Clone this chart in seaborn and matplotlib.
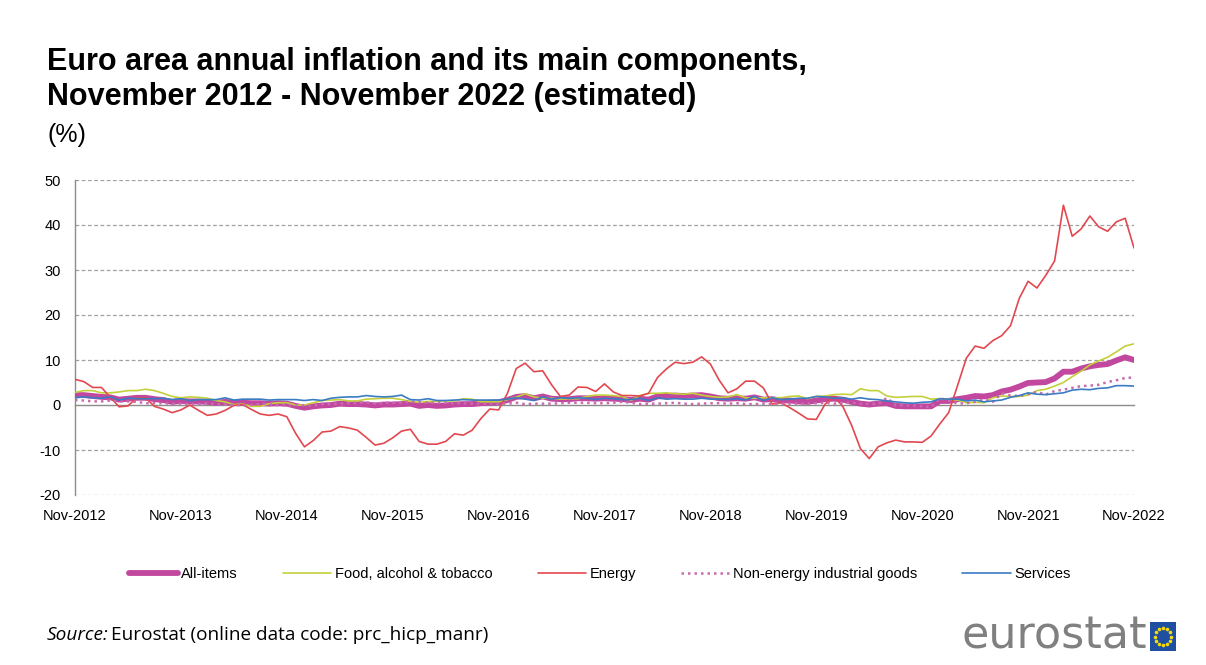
import numpy as np
import pandas as pd
import matplotlib
matplotlib.use("Agg")
import matplotlib.pyplot as plt
import seaborn as sns

# ---------------- data (annual rate of change, %) Nov-2012 .. Nov-2022 ----------------
all_items = [2.2, 2.2,
             2.0, 1.8, 1.7, 1.2, 1.4, 1.6, 1.6, 1.3, 1.1, 0.7, 0.9, 0.8,
             0.8, 0.7, 0.5, 0.7, 0.5, 0.5, 0.4, 0.4, 0.3, 0.4, 0.3, -0.2,
             -0.6, -0.3, -0.1, 0.0, 0.3, 0.2, 0.2, 0.1, -0.1, 0.1, 0.1, 0.2,
             0.3, -0.2, 0.0, -0.2, -0.1, 0.1, 0.2, 0.2, 0.4, 0.5, 0.6, 1.1,
             1.8, 2.0, 1.5, 1.9, 1.4, 1.3, 1.3, 1.5, 1.5, 1.4, 1.5, 1.4,
             1.3, 1.1, 1.4, 1.2, 1.9, 2.0, 2.1, 2.0, 2.1, 2.2, 1.9, 1.5,
             1.4, 1.5, 1.4, 1.7, 1.2, 1.3, 1.0, 1.0, 0.8, 0.7, 1.0, 1.3,
             1.4, 1.2, 0.7, 0.3, 0.1, 0.3, 0.4, -0.2, -0.3, -0.3, -0.3, -0.3,
             0.9, 0.9, 1.3, 1.6, 2.0, 1.9, 2.2, 3.0, 3.4, 4.1, 4.9, 5.0,
             5.1, 5.9, 7.4, 7.4, 8.1, 8.6, 8.9, 9.1, 9.9, 10.6, 10.0]

food = [2.8, 3.2,
        3.2, 2.7, 2.7, 2.9, 3.2, 3.2, 3.5, 3.2, 2.6, 1.9, 1.6, 1.8,
        1.7, 1.5, 1.0, 0.7, 0.1, 0.2, -0.3, -0.3, 0.3, 0.5, 0.5, 0.0,
        0.0, 0.5, 1.0, 1.1, 1.2, 0.9, 0.9, 1.3, 1.4, 1.5, 1.5, 1.2,
        0.8, 0.6, 0.8, 0.8, 0.9, 0.9, 1.4, 1.3, 0.7, 0.7, 0.7, 1.2,
        1.75, 2.5, 1.8, 1.5, 1.5, 1.3, 1.4, 1.4, 1.9, 2.2, 2.2, 2.1,
        1.9, 1.0, 2.1, 2.6, 2.6, 2.7, 2.5, 2.4, 2.6, 2.2, 1.9, 1.7,
        1.8, 2.3, 1.6, 1.5, 1.6, 1.6, 1.6, 1.9, 2.0, 1.4, 1.9, 2.0,
        2.3, 2.4, 2.3, 3.6, 3.2, 3.2, 2.0, 1.7, 1.8, 1.9, 1.9, 1.3,
        1.4, 1.3, 1.1, 0.5, 0.6, 0.5, 1.6, 2.0, 1.9, 1.9, 2.2, 3.2,
        3.5, 4.2, 5.0, 6.3, 7.5, 8.9, 9.8, 10.6, 11.8, 13.1, 13.6]

energy = [5.7, 5.2,
          3.9, 3.9, 1.7, -0.4, -0.2, 1.6, 1.6, -0.3, -0.9, -1.7, -1.1, 0.0,
          -1.2, -2.3, -2.0, -1.2, -0.1, 0.1, -1.0, -2.0, -2.3, -2.0, -2.6, -6.3,
          -9.3, -7.9, -6.0, -5.8, -4.8, -5.1, -5.6, -7.2, -8.9, -8.5, -7.3, -5.8,
          -5.4, -8.1, -8.7, -8.7, -8.1, -6.4, -6.7, -5.6, -3.0, -0.9, -1.1, 2.6,
          8.1, 9.3, 7.4, 7.6, 4.5, 1.9, 2.2, 4.0, 3.9, 3.0, 4.7, 2.9,
          2.1, 2.1, 2.0, 2.6, 6.1, 8.0, 9.5, 9.2, 9.5, 10.7, 9.1, 5.5,
          2.7, 3.6, 5.3, 5.3, 3.8, 0.2, 0.5, -0.6, -1.8, -3.1, -3.2, 0.2,
          1.9, -0.3, -4.5, -9.7, -11.9, -9.3, -8.4, -7.8, -8.2, -8.2, -8.3, -6.9,
          -4.2, -1.7, 4.3, 10.4, 13.1, 12.6, 14.3, 15.4, 17.6, 23.7, 27.5, 26.0,
          28.8, 32.0, 44.4, 37.5, 39.1, 42.0, 39.6, 38.6, 40.7, 41.5, 34.9]

neig = [1.1, 1.0,
        0.8, 0.8, 1.0, 0.8, 0.8, 0.7, 0.4, 0.4, 0.4, 0.3, 0.3, 0.2,
        0.2, 0.4, 0.2, 0.1, 0.0, -0.1, 0.0, 0.3, 0.2, -0.1, -0.1, 0.0,
        -0.1, -0.1, 0.2, 0.2, 0.3, 0.4, 0.5, 0.6, 0.3, 0.5, 0.5, 0.5,
        0.8, 0.6, 0.5, 0.5, 0.5, 0.4, 0.4, 0.3, 0.3, 0.3, 0.3, 0.3,
        0.5, 0.2, 0.3, 0.3, 0.3, 0.4, 0.5, 0.5, 0.5, 0.4, 0.4, 0.5,
        0.7, 0.5, 0.2, 0.3, 0.3, 0.4, 0.5, 0.3, 0.2, 0.3, 0.4, 0.4,
        0.3, 0.4, 0.2, 0.2, 0.3, 0.2, 0.3, 0.3, 0.3, 0.3, 0.4, 0.5,
        0.3, 0.5, 0.5, 0.3, 0.2, 0.2, 1.6, -0.1, -0.1, -0.1, -0.3, -0.5,
        1.5, 1.0, 0.3, 0.4, 0.7, 1.2, 0.7, 2.6, 2.1, 2.0, 2.4, 2.9,
        2.3, 3.1, 3.4, 3.8, 4.2, 4.3, 4.5, 5.1, 5.5, 6.0, 6.1]

services = [1.6, 1.8,
            1.6, 1.5, 1.8, 1.1, 1.5, 1.4, 1.4, 1.4, 1.5, 1.2, 1.4, 1.0,
            1.2, 1.2, 1.2, 1.6, 1.1, 1.3, 1.3, 1.3, 1.1, 1.2, 1.2, 1.2,
            1.0, 1.2, 1.0, 1.5, 1.7, 1.8, 1.8, 2.1, 1.9, 1.8, 1.9, 2.2,
            1.2, 1.1, 1.4, 1.0, 1.0, 1.1, 1.2, 1.1, 1.1, 1.1, 1.1, 1.3,
            1.6, 1.3, 1.0, 1.8, 1.3, 1.6, 1.5, 1.6, 1.5, 1.2, 1.5, 1.4,
            1.2, 1.2, 1.5, 1.0, 1.6, 1.3, 1.4, 1.3, 1.3, 1.5, 1.3, 1.3,
            1.2, 1.4, 1.1, 1.9, 1.0, 1.6, 1.2, 1.3, 1.5, 1.5, 1.9, 1.8,
            1.5, 1.6, 1.3, 1.6, 1.3, 1.2, 0.9, 0.7, 0.5, 0.4, 0.6, 0.7,
            1.4, 1.3, 1.3, 0.9, 1.1, 0.7, 0.9, 1.1, 1.7, 2.1, 2.7, 2.4,
            2.3, 2.5, 2.7, 3.3, 3.5, 3.4, 3.7, 3.8, 4.3, 4.3, 4.2]

tick_labels = ["Nov-2012", "Nov-2013", "Nov-2014", "Nov-2015", "Nov-2016", "Nov-2017",
               "Nov-2018", "Nov-2019", "Nov-2020", "Nov-2021", "Nov-2022"]
series_names = ["All-items", "Food, alcohol & tobacco", "Energy",
                "Non-energy industrial goods", "Services"]
y_ticks = [-20, -10, 0, 10, 20, 30, 40, 50]

# ---------------- build long table ----------------
month = np.arange(len(all_items))
df = pd.concat([
    pd.DataFrame({"month": month, "value": vals, "series": name})
    for name, vals in zip(series_names, [all_items, food, energy, neig, services])
], ignore_index=True)

styles = {
    "All-items": dict(color="#c2479e", lw=4.2, ls="-"),
    "Food, alcohol & tobacco": dict(color="#c3d03a", lw=1.2, ls="-"),
    "Energy": dict(color="#e2484f", lw=1.2, ls="-"),
    "Non-energy industrial goods": dict(color="#c86bb0", lw=1.8, ls=(0, (1, 1.6))),
    "Services": dict(color="#3a7cc3", lw=1.2, ls="-"),
}

sns.set_style("white")
plt.rcParams["font.family"] = ["Liberation Sans", "DejaVu Sans"]
plt.rcParams["text.color"] = "black"

fig = plt.figure(figsize=(12.06, 6.65), dpi=100)
W, H = 1206, 665
ax = fig.add_axes([75 / W, 1 - 495 / H, (1134 - 75) / W, (495 - 180) / H])

for i, name in enumerate(series_names):
    st = styles[name]
    sns.lineplot(data=df[df.series == name], x="month", y="value", ax=ax,
                 color=st["color"], linewidth=st["lw"], linestyle=st["ls"],
                 label=name, zorder=3 + i, legend=False)

ax.set_xlim(0, len(all_items) - 1)
ax.set_ylim(-20, 50)
ax.set_yticks(y_ticks)
ax.set_yticklabels([f"{v}" for v in y_ticks], fontsize=10.5, color="black")
ax.set_xlabel("")
ax.set_ylabel("")

# grid
for v in y_ticks:
    if v != 0:
        ax.axhline(v, color="#a0a0a0", lw=0.9, ls=(0, (3, 2)), zorder=1)

for s in ["top", "right"]:
    ax.spines[s].set_visible(False)
ax.spines["left"].set_color("#8c8c8c")
ax.spines["left"].set_linewidth(1.0)
ax.spines["bottom"].set_position(("data", 0))
ax.spines["bottom"].set_color("#8c8c8c")
ax.spines["bottom"].set_linewidth(1.0)
ax.spines["bottom"].set_zorder(2)

xt = list(range(0, len(all_items), 12))
ax.set_xticks(xt)
ax.tick_params(axis="x", which="both", direction="out", length=4, color="#8c8c8c",
               labelbottom=False)
ax.tick_params(axis="y", direction="out", length=4, color="#8c8c8c", pad=6)

sec = ax.secondary_xaxis("bottom")
sec.set_xticks(xt)
sec.set_xticklabels(tick_labels, fontsize=10.5, color="black")
sec.tick_params(length=0, pad=10)
sec.spines["bottom"].set_visible(False)

# legend
handles, labels = ax.get_legend_handles_labels()
leg = fig.legend(handles, labels, loc="center", bbox_to_anchor=(600 / W, 1 - 574 / H),
                 ncol=5, frameon=False, fontsize=10.5, handlelength=3.3,
                 handletextpad=0.25, columnspacing=3.1)

# titles
fig.text(47 / W, 1 - 62 / H, "Euro area annual inflation and its main components,",
         fontsize=22, fontweight="bold", va="center", ha="left", color="black")
fig.text(47 / W, 1 - 97 / H, "November 2012 - November 2022 (estimated)",
         fontsize=22, fontweight="bold", va="center", ha="left", color="black")
fig.text(47 / W, 1 - 135 / H, "(%)", fontsize=18, va="center", ha="left", color="black")

# source line
t1 = fig.text(47 / W, 1 - 635 / H, "Source:", fontsize=13.7, style="italic",
              va="center", ha="left", family=["Open Sans", "DejaVu Sans"])
fig.canvas.draw()
bb = t1.get_window_extent()
fig.text(bb.x1 / W + 0.002, 1 - 635 / H, "Eurostat (online data code: prc_hicp_manr)",
         fontsize=13.7, va="center", ha="left", family=["Open Sans", "DejaVu Sans"])

# eurostat logo
fig.text(1147 / W, 1 - 636 / H, "eurostat", fontsize=32, color="#808080",
         va="center", ha="right", family=["DejaVu Sans"])
lax = fig.add_axes([1150 / W, 1 - 651 / H, 26 / W, 29 / H])
lax.set_xlim(0, 1)
lax.set_ylim(0, 1)
lax.add_patch(plt.Rectangle((0, 0), 1, 1, color="#1f4fa0"))
ang = np.linspace(0, 2 * np.pi, 12, endpoint=False)
lax.scatter(0.5 + 0.3 * np.cos(ang), 0.5 + 0.3 * np.sin(ang), s=2.5, color="#f5d90a")
lax.axis("off")

fig.savefig("out.png", dpi=100)
